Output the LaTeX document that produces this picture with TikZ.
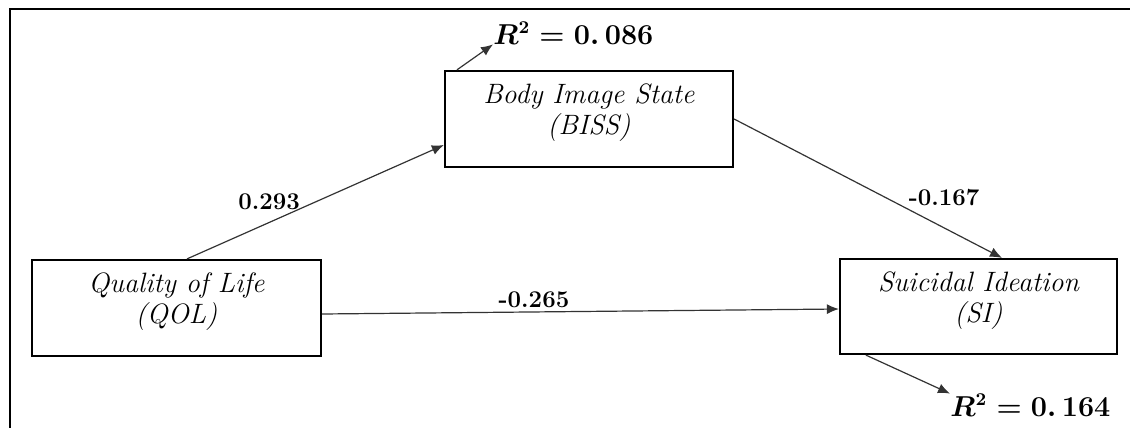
\documentclass[tikz,border=0pt]{standalone}
\usepackage{tikz}
\usepackage{amsmath}
\usepackage{amssymb}
\usetikzlibrary{arrows.meta,calc}
\tikzset{
  varbox/.style = {rectangle, draw=black, line width=1.1pt, align=center,
    inner sep=0pt, font=\fontsize{14}{15.5}\selectfont\itshape},% boite de variable
  coef/.style = {inner sep=0pt, font=\fontsize{12}{14}\selectfont\bfseries},% coefficient
  rsq/.style = {inner sep=0pt, font=\fontsize{13.5}{16}\selectfont\boldmath},% R carre
  effect/.style = {draw=black!80, line width=0.6pt,
    -{Latex[length=6pt,width=5pt]}}% fleche
}

\begin{document}
\begin{tikzpicture}[x=0.5pt, y=-0.5pt]
		\useasboundingbox (0,0) rectangle (1130,428);
		\draw [line width=1.4pt] (10,428) -- (10,9) -- (1130,9);
		% variables
		\node [varbox, minimum width=144pt, minimum height=48pt] (biss) at (589,119)
			{Body Image State\\(BISS)\\[-6pt]\mbox{}};
		\node [varbox, minimum width=144.5pt, minimum height=48pt] (qol) at (176.5,308)
			{Quality of Life\\(QOL)\\[-6pt]\mbox{}};
		\node [varbox, minimum width=138.5pt, minimum height=47.5pt] (si) at (978.5,306.5)
			{Suicidal Ideation\\(SI)\\[-6pt]\mbox{}};
		% R carre
		\node [rsq, anchor=west] (r2biss) at (493,33) {$R^2 = 0.\,086$};
		\node [rsq, anchor=west] (r2si) at (950,405) {$R^2 = 0.\,164$};
		% effets
		\draw [effect] ($(qol.north)+(10.5,0)$) -- ($(biss.west)+(0,26)$)
			node [coef, pos=0.32, above=6pt] {0.293};
		\draw [effect] (biss.east) -- ($(si.north)+(23.5,0)$)
			node [coef, pos=0.65, anchor=south west, yshift=1.5pt] {-0.167};
		\draw [effect] ($(qol.east)+(0,6)$) -- ($(si.west)+(0,2.5)$)
			node [coef, pos=0.41, above=2pt] {-0.265};
		\draw [effect] ($(biss.north west)+(13,0)$) -- (r2biss.south west);
		\draw [effect] ($(si.south west)+(27,0)$) -- (r2si.north west);
	\end{tikzpicture}
\end{document}
